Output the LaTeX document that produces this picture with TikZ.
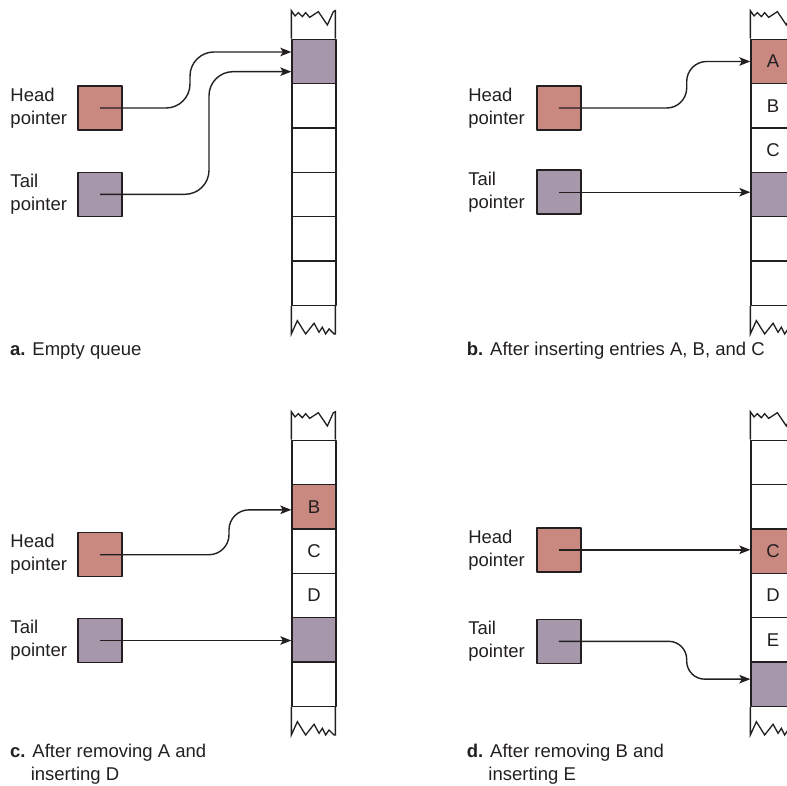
\documentclass[tikz,border=0pt]{standalone}
\usepackage{fontspec}
\setmainfont{Liberation Sans}
\usetikzlibrary{arrows.meta,positioning}
\definecolor{ink}{HTML}{231F20}
\definecolor{headc}{HTML}{C98880}
\definecolor{tailc}{HTML}{A698AA}
\tikzset{
  every picture/.style={line join=round, >=Stealth},
  txt/.style={font=\fontsize{18.5pt}{23pt}\selectfont, text=ink},
  ptrbox/.style={draw=ink, line width=1.5pt, minimum size=44pt, inner sep=0pt},
  cell/.style={txt, draw=ink, line width=1.3pt, minimum width=44pt, minimum height=44.33pt, inner sep=0pt},
  lbl/.style={txt, align=left, inner sep=0pt},
  qcaption/.style={txt, align=left, inner sep=0pt, anchor=base west},
  ptr/.style={draw=ink, line width=1.4pt, -{Stealth[length=11pt,width=8.5pt,inset=2.5pt]}},
  qtop/.pic={\draw[ink, line width=1.3pt, line join=miter] (0,0) -- (0,-28) -- (3.7,-22.7) -- (7,-26) -- (11,-22) -- (14.3,-26) -- (18.3,-21.3) -- (27,-27) -- (36,-13.7) -- (42,-27) -- (44,-28) -- (44,0);},
  qbot/.pic={\draw[ink, line width=1.3pt, line join=miter] (0,0) -- (0,28) -- (6,14.7) -- (14.3,28) -- (22.7,17.3) -- (27.7,26.3) -- (31,21.3) -- (34.3,28) -- (37.7,23) -- (42.7,28) -- (44,28) -- (44,0);},
}

\begin{document}
\begin{tikzpicture}[x=1pt,y=-1pt]
\useasboundingbox (0,0) rectangle (787,785);
\clip (0,0) rectangle (787,785);

% a
\foreach \i/\f/\t in {1/tailc/{},2/white/{},3/white/{},4/white/{},5/white/{},6/white/{}}
  \node[cell,fill=\f] (qa\i) at (314,{61.47+44.33*(\i-1)}) {\t};
\pic at (qa1.north west) {qtop};
\pic at (qa6.south west) {qbot};
\node[ptrbox,fill=headc] (hpa) at (100,108) {};
\node[ptrbox,fill=tailc] (tpa) at (100,194.3) {};
\node[lbl,left=10pt of hpa] {Head\\pointer};
\node[lbl,left=10pt of tpa] {Tail\\pointer};
\coordinate (ha) at ([yshift=9.5pt]qa1.west);
\coordinate (ta) at ([yshift=-10.2pt]qa1.west);
\coordinate (kha) at (190,0);
\coordinate (kta) at (209,0);
\draw[ptr,rounded corners=24pt] (hpa.center) -| (kha |- ha) -- (ha);
\draw[ptr,rounded corners=24pt] (tpa.center) -| (kta |- ta) -- (ta);
\node[qcaption] (capa) at (10,355) {\textbf{a.} Empty queue};

% b
\foreach \i/\f/\t in {1/headc/A,2/white/B,3/white/C,4/tailc/{},5/white/{},6/white/{}}
  \node[cell,fill=\f] (qb\i) at (773,{61.47+44.33*(\i-1)}) {\t};
\pic at (qb1.north west) {qtop};
\pic at (qb6.south west) {qbot};
\node[ptrbox,fill=headc] (hpb) at (558.8,108) {};
\node[ptrbox,fill=tailc] (tpb) at (558.8,192.2) {};
\node[lbl,left=11pt of hpb] {Head\\pointer};
\node[lbl,left=11pt of tpb] {Tail\\pointer};
\coordinate (khb) at (686.7,0);
\draw[ptr,rounded corners=20pt] (hpb.center) -| (khb |- qb1.west) -- (qb1.west);
\draw[ptr] (tpb.center) -- (tpb.center -| qb4.west);
\node[qcaption] (capb) at (466.7,355) {\textbf{b.} After inserting entries A, B, and C};

% c
\foreach \i/\f/\t in {1/white/{},2/headc/B,3/white/C,4/white/D,5/tailc/{},6/white/{}}
  \node[cell,fill=\f] (qc\i) at (314,{462.5+44.33*(\i-1)}) {\t};
\pic at (qc1.north west) {qtop};
\pic at (qc6.south west) {qbot};
\node[ptrbox,fill=headc] (hpc) at (100,554.7) {};
\node[ptrbox,fill=tailc] (tpc) at (100,640.5) {};
\node[lbl,left=10pt of hpc] {Head\\pointer};
\node[lbl,left=10pt of tpc] {Tail\\pointer};
\coordinate (hc) at ([yshift=-3pt]qc2.west);
\coordinate (khc) at (229,0);
\draw[ptr,rounded corners=20pt] (hpc.center) -| (khc |- hc) -- (hc);
\draw[ptr] (tpc.center) -- (tpc.center -| qc5.west);
\node[qcaption] (capc) at (10,780) {\textbf{c.} After removing A and\\\hphantom{\textbf{c.}\ }inserting D};

% d
\foreach \i/\f/\t in {1/white/{},2/white/{},3/headc/C,4/white/D,5/white/E,6/tailc/{}}
  \node[cell,fill=\f] (qd\i) at (773,{462.5+44.33*(\i-1)}) {\t};
\pic at (qd1.north west) {qtop};
\pic at (qd6.south west) {qbot};
\node[ptrbox,fill=headc] (hpd) at (558.8,549.8) {};
\node[ptrbox,fill=tailc] (tpd) at (558.8,641.3) {};
\node[lbl,left=11pt of hpd] {Head\\pointer};
\node[lbl,left=11pt of tpd] {Tail\\pointer};
\coordinate (td) at ([yshift=5pt]qd6.west);
\coordinate (ktd) at (686.7,0);
\draw[ptr] (hpd.center) -- (hpd.center -| qd3.west);
\draw[ptr,rounded corners=18pt] (tpd.center) -| (ktd |- td) -- (td);
\node[qcaption] (capd) at (466.7,780) {\textbf{d.} After removing B and\\\hphantom{\textbf{d.}\ }inserting E};
\end{tikzpicture}
\end{document}
